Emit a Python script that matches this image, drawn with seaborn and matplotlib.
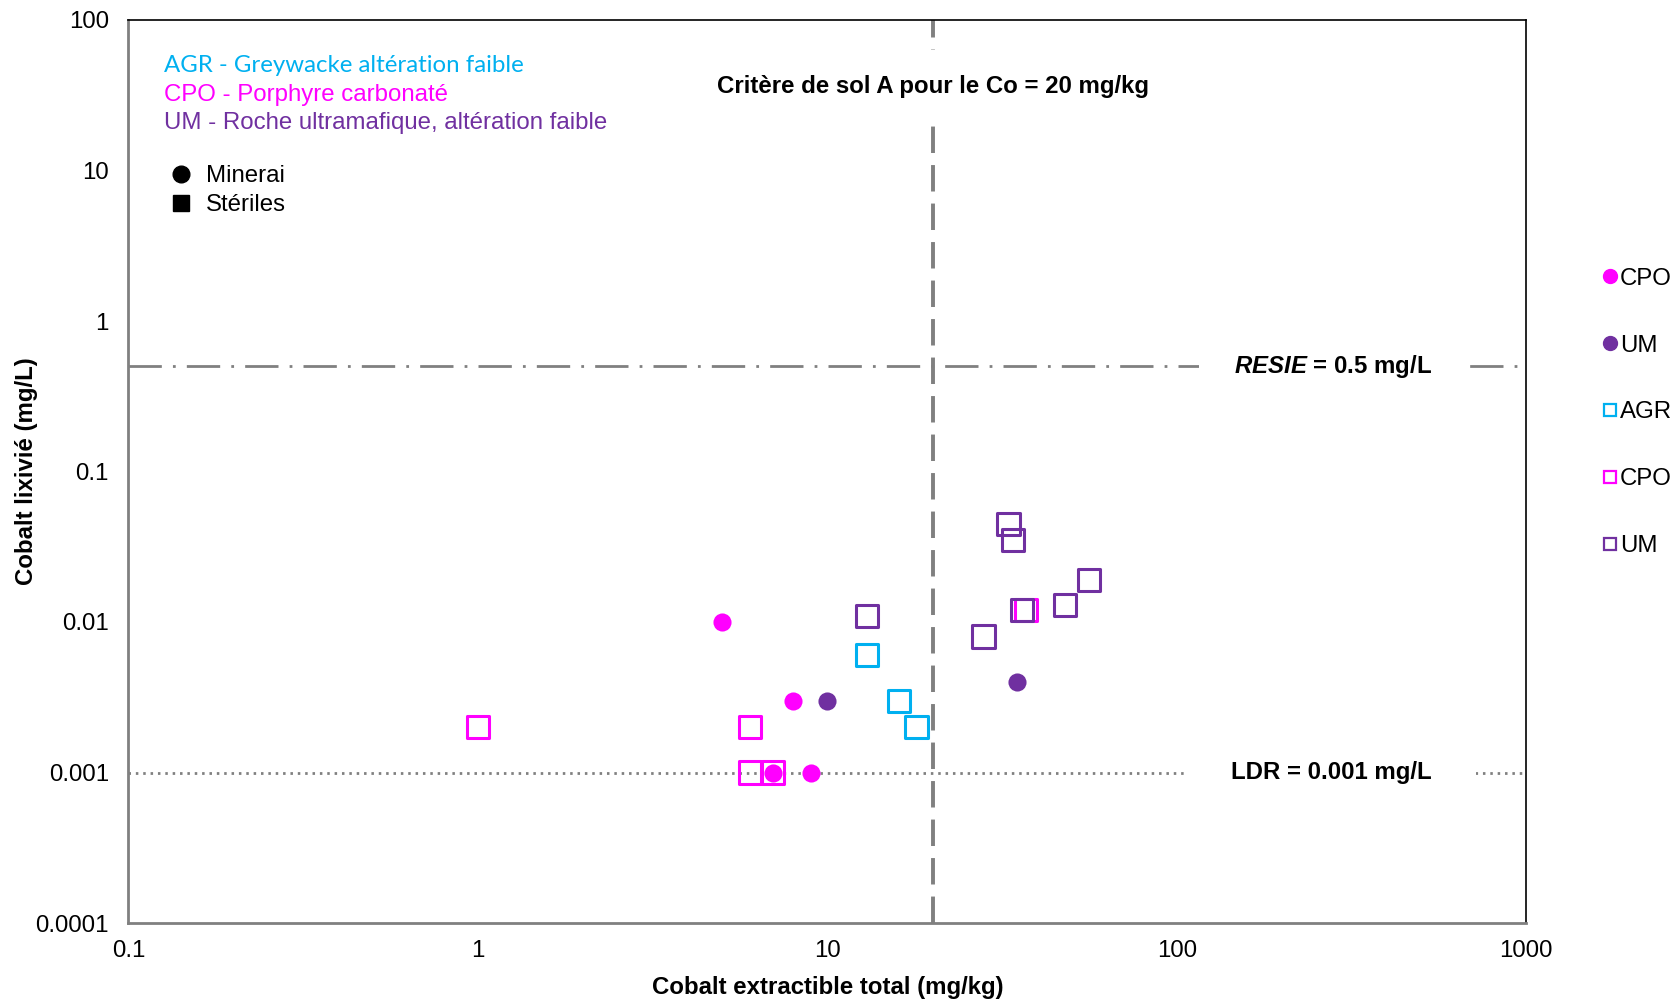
import pandas as pd
import matplotlib.pyplot as plt
import seaborn as sns
from matplotlib.lines import Line2D

# Data (mg/kg, mg/L)
cpo_minerai_x = [5, 8, 7, 9]
cpo_minerai_y = [0.01, 0.003, 0.001, 0.001]
um_minerai_x = [10, 35]
um_minerai_y = [0.003, 0.004]
agr_steriles_x = [13, 16, 18]
agr_steriles_y = [0.006, 0.003, 0.002]
cpo_steriles_x = [1, 6, 6, 7, 37]
cpo_steriles_y = [0.002, 0.002, 0.001, 0.001, 0.012]
um_steriles_x = [13, 33, 34, 36, 28, 48, 56]
um_steriles_y = [0.011, 0.045, 0.035, 0.012, 0.008, 0.013, 0.019]

critere_co = 20
resie = 0.5
ldr = 0.001

x_ticks = [0.1, 1, 10, 100, 1000]
x_tick_labels = ["0.1", "1", "10", "100", "1000"]
y_ticks = [0.0001, 0.001, 0.01, 0.1, 1, 10, 100]
y_tick_labels = ["0.0001", "0.001", "0.01", "0.1", "1", "10", "100"]

colors = {"AGR": "#00B0F0", "CPO": "#FF00FF", "UM": "#7030A0"}

series = [
    ("CPO", "Minerai", cpo_minerai_x, cpo_minerai_y),
    ("UM", "Minerai", um_minerai_x, um_minerai_y),
    ("AGR", "Stériles", agr_steriles_x, agr_steriles_y),
    ("CPO", "Stériles", cpo_steriles_x, cpo_steriles_y),
    ("UM", "Stériles", um_steriles_x, um_steriles_y),
]
rows = []
for rock, kind, xs, ys in series:
    for xv, yv in zip(xs, ys):
        rows.append({"rock": rock, "type": kind, "co_total": xv, "co_lix": yv})
df = pd.DataFrame(rows)

sns.set_style("white")
plt.rcParams['font.family'] = ['Liberation Sans', 'DejaVu Sans']
plt.rcParams['text.color'] = 'black'
plt.rcParams['axes.labelcolor'] = 'black'
# mathtext italic used for the bold italic "RESIE"
plt.rcParams['mathtext.fontset'] = 'custom'
plt.rcParams['mathtext.it'] = 'Liberation Sans:italic:bold'

FS = 17.3

fig = plt.figure(figsize=(16.79, 10), dpi=100)
ax = fig.add_axes([0.0765, 0.077, 0.8325, 0.903])

# scatter points, one series at a time (same order as the original)
for rock, kind, _, _ in series:
    sub = df[(df["rock"] == rock) & (df["type"] == kind)]
    if kind == "Minerai":
        sns.scatterplot(data=sub, x="co_total", y="co_lix", marker="o", s=170,
                        color=colors[rock], edgecolor=colors[rock], linewidth=0, ax=ax, zorder=3)
    else:
        sns.scatterplot(data=sub, x="co_total", y="co_lix", marker="s", s=255,
                        color=colors[rock], ax=ax, zorder=3)
        coll = ax.collections[-1]
        coll.set_facecolor("none")
        coll.set_edgecolor(colors[rock])
        coll.set_linewidth(2.2)

# reference lines
ax.axvline(critere_co, color="#808080", lw=2.8, ls=(0, (6.8, 3.1)), zorder=1)
ax.axhline(resie, color="#808080", lw=2.0, ls=(0, (12, 4, 1, 4)), zorder=1)
ax.axhline(ldr, color="#808080", lw=2.0, ls=(0, (0.9, 1.75)), zorder=1)

ax.set_xscale("log")
ax.set_yscale("log")
ax.set_xlim(0.1, 1000)
ax.set_ylim(0.0001, 100)
ax.set_xticks(x_ticks)
ax.set_xticklabels(x_tick_labels)
ax.set_yticks(y_ticks)
ax.set_yticklabels(y_tick_labels)
ax.tick_params(axis="both", which="both", direction="in", colors="#808080",
               labelcolor="black", labelsize=FS)
ax.tick_params(axis="both", which="major", length=6, width=1.2)
ax.tick_params(axis="both", which="minor", length=5, width=1.2)
ax.tick_params(axis="x", which="major", pad=12)
ax.tick_params(axis="y", which="major", pad=14)

for side in ["left", "bottom"]:
    ax.spines[side].set_color("#808080")
    ax.spines[side].set_linewidth(2)
for side in ["top", "right"]:
    ax.spines[side].set_color("black")
    ax.spines[side].set_linewidth(1.2)

ax.set_xlabel("Cobalt extractible total (mg/kg)", fontsize=FS, fontweight="bold", labelpad=10)
ax.set_ylabel("Cobalt lixivié (mg/L)", fontsize=FS, fontweight="bold", labelpad=-1.7)

# labels on the reference lines
ytr = ax.get_yaxis_transform()
ax.text(critere_co, 36, "Critère de sol A pour le Co = 20 mg/kg", ha="center", va="center",
        fontsize=FS, fontweight="bold", bbox=dict(facecolor="white", edgecolor="none", pad=18), zorder=2)
ax.text(0.8615, resie, r"$\mathit{RESIE}$ = 0.5 mg/L", transform=ytr, ha="center", va="center",
        fontsize=FS, fontweight="bold", bbox=dict(facecolor="white", edgecolor="none", pad=25), zorder=2)
ax.text(0.8605, ldr, "LDR = 0.001 mg/L", transform=ytr, ha="center", va="center",
        fontsize=FS, fontweight="bold", bbox=dict(facecolor="white", edgecolor="none", pad=32), zorder=2)

# rock type description
ax.text(0.0253, 0.950, "AGR - Greywacke altération faible", transform=ax.transAxes,
        color=colors["AGR"], fontsize=FS, family=["Lato", "DejaVu Sans"], va="center")
ax.text(0.0253, 0.917, "CPO - Porphyre carbonaté", transform=ax.transAxes,
        color=colors["CPO"], fontsize=FS, va="center")
ax.text(0.0253, 0.886, "UM - Roche ultramafique, altération faible", transform=ax.transAxes,
        color=colors["UM"], fontsize=FS, va="center")

# marker type legend
type_handles = [
    Line2D([], [], ls="none", marker="o", color="black", markersize=12, label="Minerai"),
    Line2D([], [], ls="none", marker="s", color="black", markersize=11, label="Stériles"),
]
ax.legend(handles=type_handles, loc="upper left", bbox_to_anchor=(0.022, 0.85), frameon=False,
          fontsize=FS, handlelength=1.0, handletextpad=0.55, labelspacing=0.3, borderaxespad=0)

# series legend on the right
series_handles = []
for rock, kind, _, _ in series:
    if kind == "Minerai":
        h = Line2D([], [], ls="none", marker="o", color=colors[rock], markersize=10, label=rock)
    else:
        h = Line2D([], [], ls="none", marker="s", markerfacecolor="none", markeredgecolor=colors[rock],
                   markeredgewidth=1.6, markersize=8.5, label=rock)
    series_handles.append(h)
fig.legend(handles=series_handles, loc="upper left", bbox_to_anchor=(0.949, 0.742), frameon=False,
           fontsize=FS, handlelength=0.6, handletextpad=0.1, labelspacing=1.87, borderaxespad=0)

plt.savefig("out.png", dpi=100)
